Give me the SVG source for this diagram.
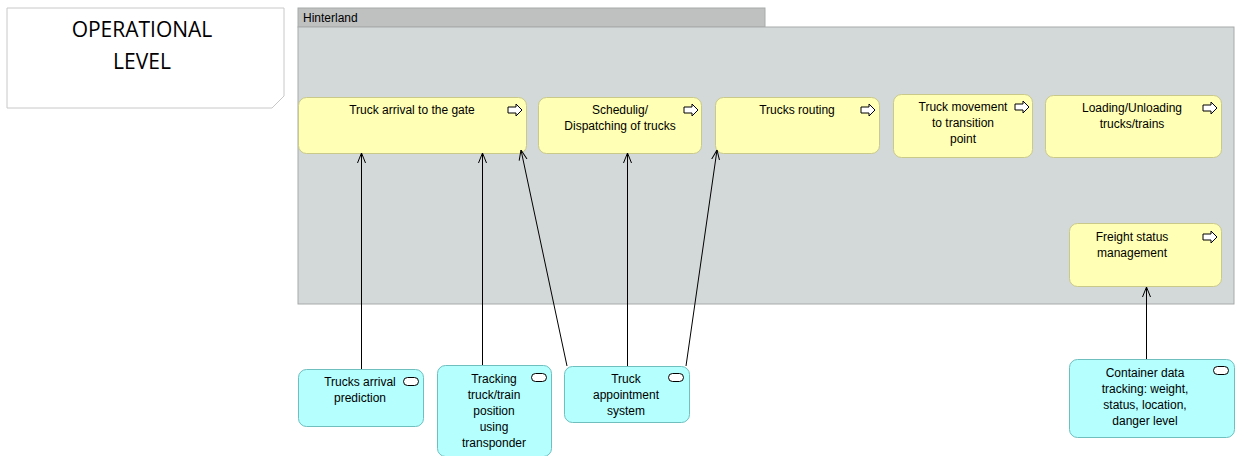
<svg xmlns="http://www.w3.org/2000/svg" width="1235" height="456" viewBox="0 0 1235 456">
<style>
text{font-family:"Liberation Sans",Arial,sans-serif;font-size:12px;fill:#000;text-anchor:middle}
.title{font-size:21px;font-family:"Open Sans","Liberation Sans",sans-serif}
.proc{fill:#ffffb5;stroke:#c9c98a;stroke-width:1}
.svc{fill:#b5ffff;stroke:#6fbfbf;stroke-width:1}
.pi{fill:#fff;stroke:#000;stroke-width:1}
.si{fill:#fff;stroke:#000;stroke-width:1}
.conn{stroke:#000;stroke-width:1;fill:none;marker-end:url(#open)}
</style>
<defs>
<marker id="open" viewBox="0 0 10 10" refX="10" refY="5" markerWidth="10" markerHeight="10" markerUnits="userSpaceOnUse" orient="auto">
<path d="M0,1 L10,5 L0,9" fill="none" stroke="#000" stroke-width="1"/>
</marker>
<path id="picon" d="M0,-3 h8 v-3 l6,6 l-6,6 v-3 h-8 z"/>
</defs>
<g id="operational-level">
<path d="M7,8 H284 V96 L272,108 H7 Z" fill="#fff" stroke="#c8c8c8"/>
<text class="title" x="142" y="37">OPERATIONAL</text>
<text class="title" x="142" y="69">LEVEL</text>
</g>
<g id="hinterland">
<rect x="298" y="8" width="467" height="19" fill="#bfc1c1" stroke="#a8aaaa"/>
<rect x="298" y="27" width="936" height="277" fill="#d3d8d8" stroke="#a8aaaa"/>
<text x="303" y="22" style="text-anchor:start">Hinterland</text>
</g>
<g id="truck-arrival">
<rect class="proc" x="298.5" y="97.5" width="228" height="56" rx="8"/>
<text x="412" y="114">Truck arrival to the gate</text>
<use href="#picon" class="pi" x="508" y="110"/>
</g>
<g id="scheduling">
<rect class="proc" x="538.5" y="97.5" width="163" height="56" rx="8"/>
<text x="620" y="114">Schedulig/</text>
<text x="620" y="130">Dispatching of trucks</text>
<use href="#picon" class="pi" x="684" y="110"/>
</g>
<g id="trucks-routing">
<rect class="proc" x="715.5" y="97.5" width="164" height="56" rx="8"/>
<text x="797" y="114">Trucks routing</text>
<use href="#picon" class="pi" x="861" y="110"/>
</g>
<g id="truck-movement">
<rect class="proc" x="893.5" y="94.5" width="139" height="63" rx="8"/>
<text x="963" y="111">Truck movement</text>
<text x="963" y="127">to transition</text>
<text x="963" y="143">point</text>
<use href="#picon" class="pi" x="1015" y="107"/>
</g>
<g id="loading-unloading">
<rect class="proc" x="1045.5" y="95.5" width="176" height="62" rx="8"/>
<text x="1132" y="112">Loading/Unloading</text>
<text x="1132" y="128">trucks/trains</text>
<use href="#picon" class="pi" x="1203" y="108"/>
</g>
<g id="freight-status">
<rect class="proc" x="1069.5" y="223.5" width="152" height="63" rx="8"/>
<text x="1132" y="241">Freight status</text>
<text x="1132" y="257">management</text>
<use href="#picon" class="pi" x="1203" y="237"/>
</g>
<g id="trucks-arrival-prediction">
<rect class="svc" x="298.5" y="369.5" width="125" height="57" rx="8"/>
<text x="360" y="386">Trucks arrival</text>
<text x="360" y="402">prediction</text>
<rect class="si" x="403.5" y="377.5" width="15" height="8" rx="4"/>
</g>
<g id="tracking">
<rect class="svc" x="437.5" y="365.5" width="114" height="91" rx="8"/>
<text x="494" y="383">Tracking</text>
<text x="494" y="399">truck/train</text>
<text x="494" y="415">position</text>
<text x="494" y="431">using</text>
<text x="494" y="447">transponder</text>
<rect class="si" x="531.5" y="373.5" width="15" height="8" rx="4"/>
</g>
<g id="truck-appointment">
<rect class="svc" x="564.5" y="366.5" width="125" height="56" rx="8"/>
<text x="626" y="383">Truck</text>
<text x="626" y="399">appointment</text>
<text x="626" y="415">system</text>
<rect class="si" x="668.5" y="373.5" width="15" height="8" rx="4"/>
</g>
<g id="container-data">
<rect class="svc" x="1069.5" y="359.5" width="165" height="78" rx="8"/>
<text x="1145" y="377">Container data</text>
<text x="1145" y="393">tracking: weight,</text>
<text x="1145" y="409">status, location,</text>
<text x="1145" y="425">danger level</text>
<rect class="si" x="1213.5" y="366.5" width="15" height="8" rx="4"/>
</g>
<g id="connectors">
<line class="conn" x1="361.5" y1="369" x2="361.5" y2="153"/>
<line class="conn" x1="482.5" y1="365" x2="482.5" y2="153"/>
<line class="conn" x1="567" y1="366" x2="521" y2="150"/>
<line class="conn" x1="627.5" y1="366" x2="627.5" y2="153"/>
<line class="conn" x1="686" y1="366" x2="717" y2="150"/>
<line class="conn" x1="1146.5" y1="359" x2="1146.5" y2="287"/>
</g>
</svg>
